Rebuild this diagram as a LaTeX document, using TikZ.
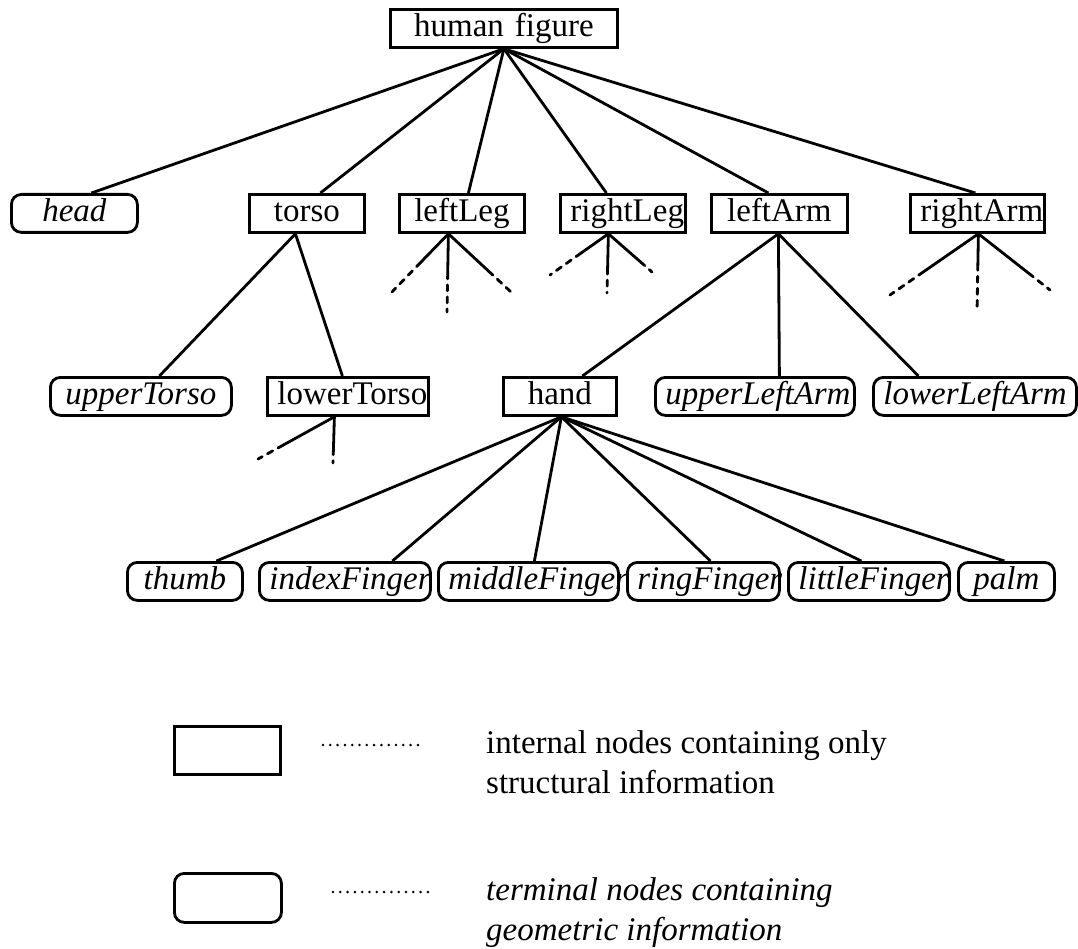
\documentclass[tikz,border=0pt]{standalone}
\usepackage{fontspec}
\setmainfont{Liberation Serif}
\usetikzlibrary{calc}
\hyphenpenalty=10000
\exhyphenpenalty=10000
\hbadness=10000
\hfuzz=100pt

% a branch that fades into a dashed stub: #1 start, #2 free end, #3 solid fraction
\newcommand\branchstub[3]{%
  \draw[link] (#1) -- ($(#1)!#3!(#2)$);
  \draw[stubdash] ($(#1)!#3!(#2)$) -- (#2);}

\tikzset{
  x=1pt, y=-1pt,
  nodefont/.style={font=\fontsize{33}{40}\selectfont},
  basebox/.style={draw, line width=2.8pt, inner xsep=10pt, inner ysep=4pt,
    text height=23pt, text depth=7pt, align=center, anchor=north west,
    nodefont},
  inode/.style={basebox},
  tnode/.style={basebox, rounded corners=10pt,
    font=\fontsize{33}{40}\selectfont\itshape},
  link/.style={line width=2.8pt},
  stubdash/.style={line width=2.8pt, dash pattern=on 6pt off 6pt, line cap=round},
  dotrule/.style={line width=2.8pt, dash pattern=on 0pt off 7.3pt, line cap=round},
  legendbox/.style={draw, line width=2.8pt, minimum width=107pt,
    minimum height=49pt, inner sep=0pt, anchor=north west},
  legendtext/.style={anchor=base west, align=left, inner sep=0pt, nodefont},
}

\begin{document}
\begin{tikzpicture}
\useasboundingbox (0,0) rectangle (1078,949);

% root
\node[inode, text width=207pt] (human) at (389,8) {human figure};

% first level
\node[tnode, text width=106pt] (head)     at (10,193)  {head};
\node[inode, text width=95pt]  (torso)    at (248,193) {torso};
\node[inode, text width=105pt] (leftLeg)  at (398,193) {leftLeg};
\node[inode, text width=105pt] (rightLeg) at (559,193) {rightLeg};
\node[inode, text width=116pt] (leftArm)  at (710,193) {leftArm};
\node[inode, text width=114pt] (rightArm) at (909,193) {rightArm};

% second level
\node[tnode, text width=161pt] (upperTorso)   at (49,376)  {upperTorso};
\node[inode, text width=141pt] (lowerTorso)   at (266,376) {lowerTorso};
\node[inode, text width=93pt]  (hand)         at (502,376) {hand};
\node[tnode, text width=179pt] (upperLeftArm) at (654,376) {upperLeftArm};
\node[tnode, text width=183pt] (lowerLeftArm) at (872,376) {lowerLeftArm};

% third level
\node[tnode, text width=95pt]  (thumb)        at (126,561) {thumb};
\node[tnode, text width=151pt] (indexFinger)  at (258,561) {indexFinger};
\node[tnode, text width=160pt] (middleFinger) at (437,561) {middleFinger};
\node[tnode, text width=132pt] (ringFinger)   at (626,561) {ringFinger};
\node[tnode, text width=141pt] (littleFinger) at (787,561) {littleFinger};
\node[tnode, text width=76pt]  (palm)         at (957,561) {palm};

% root to first level
\draw[link] (human.south) -- ([xshift=17pt]head.north);
\draw[link] (human.south) -- ([xshift=13.5pt]torso.north);
\draw[link] (human.south) -- ([xshift=6.5pt]leftLeg.north);
\draw[link] (human.south) -- ([xshift=-16.5pt]rightLeg.north);
\draw[link] (human.south) -- ([xshift=-11pt]leftArm.north);
\draw[link] (human.south) -- ([xshift=-2pt]rightArm.north);

% torso
\draw[link] ([xshift=-11.5pt]torso.south) -- ([xshift=18.5pt]upperTorso.north);
\draw[link] ([xshift=-11.5pt]torso.south) -- ([xshift=-5.5pt]lowerTorso.north);

% left arm
\draw[link] ([xshift=-1pt]leftArm.south) -- ([xshift=22.5pt]hand.north);
\draw[link] ([xshift=-1pt]leftArm.south) -- ([xshift=24.5pt]upperLeftArm.north);
\draw[link] ([xshift=-1pt]leftArm.south) -- ([xshift=-56.5pt]lowerLeftArm.north);

% hand
\draw[link] ([xshift=1.5pt]hand.south) -- ([xshift=31.5pt]thumb.north);
\draw[link] ([xshift=1.5pt]hand.south) -- ([xshift=47.5pt]indexFinger.north);
\draw[link] ([xshift=1.5pt]hand.south) -- ([xshift=6pt]middleFinger.north);
\draw[link] ([xshift=1.5pt]hand.south) -- ([xshift=7pt]ringFinger.north);
\draw[link] ([xshift=1.5pt]hand.south) -- ([xshift=-7.5pt]littleFinger.north);
\draw[link] ([xshift=1.5pt]hand.south) -- ([xshift=-2pt]palm.north);

% unexpanded subtrees
\coordinate (llc) at ([xshift=-13.5pt]leftLeg.south);
\coordinate (ll1) at (392,292);
\coordinate (ll2) at (447,312);
\coordinate (ll3) at (511,292);
\branchstub{llc}{ll1}{0.49}
\branchstub{llc}{ll2}{0.5}
\branchstub{llc}{ll3}{0.64}

\coordinate (rlc) at ([xshift=-14.5pt]rightLeg.south);
\coordinate (rl1) at (550,275);
\coordinate (rl2) at (607,293);
\coordinate (rl3) at (652,272);
\branchstub{rlc}{rl1}{0.47}
\branchstub{rlc}{rl2}{0.58}
\branchstub{rlc}{rl3}{0.73}

\coordinate (rac) at ([xshift=1pt]rightArm.south);
\coordinate (ra1) at (890,295);
\coordinate (ra2) at (977,312);
\coordinate (ra3) at (1050,290);
\branchstub{rac}{ra1}{0.62}
\branchstub{rac}{ra2}{0.39}
\branchstub{rac}{ra3}{0.7}

\coordinate (ltc) at ([xshift=-13.5pt]lowerTorso.south);
\coordinate (lt1) at (258,459);
\coordinate (lt2) at (333,463);
\branchstub{ltc}{lt1}{0.67}
\branchstub{ltc}{lt2}{0.69}

% legend
\node[legendbox, minimum width=106pt, minimum height=48pt] (legInt) at (173,725) {};
\node[legendbox, rounded corners=10pt] (legTerm) at (173,872) {};
\coordinate (dotA1) at (323,745);
\coordinate (dotA2) at (425,745);
\coordinate (dotB1) at (333,892);
\coordinate (dotB2) at (435,892);
\draw[dotrule] (dotA1) -- (dotA2);
\draw[dotrule] (dotB1) -- (dotB2);
% the base anchor of a two-line node sits on its last line
\node[legendtext] (legIntText) at (486,793)
  {internal nodes containing only\\structural information};
\node[legendtext, font=\fontsize{33}{40}\selectfont\itshape] (legTermText) at (486,940)
  {terminal nodes containing\\geometric information};
\end{tikzpicture}
\end{document}
